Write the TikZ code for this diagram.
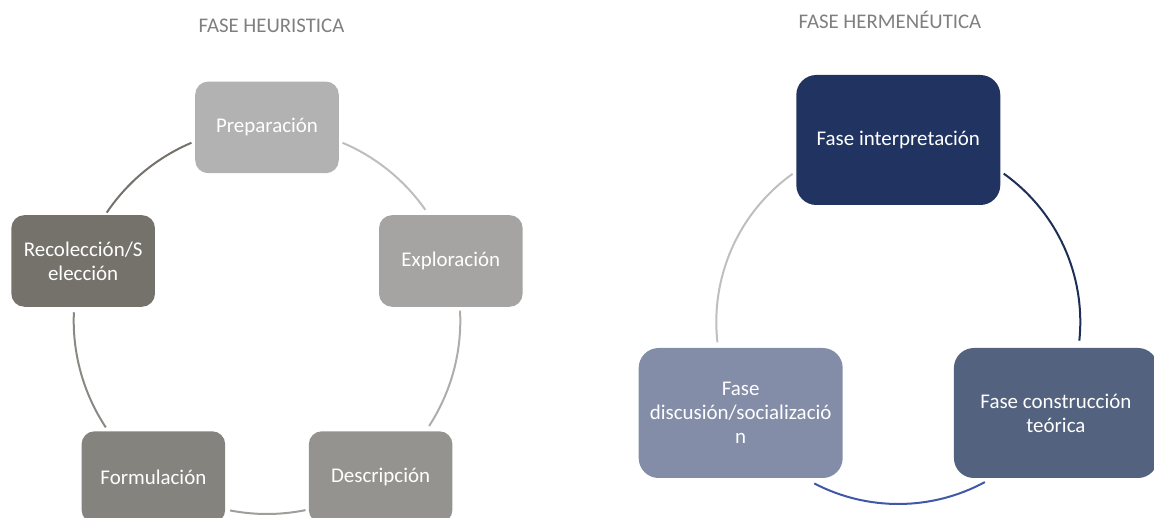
\documentclass[tikz,border=0pt]{standalone}
\usepackage{fontspec}
\setmainfont{Carlito}
\usetikzlibrary{positioning}

\definecolor{prepgray}{HTML}{B2B2B2}
\definecolor{explgray}{HTML}{A5A4A2}
\definecolor{descgray}{HTML}{94938F}
\definecolor{formgray}{HTML}{85837E}
\definecolor{recolgray}{HTML}{75726B}
\definecolor{interpblue}{HTML}{213461}
\definecolor{constrblue}{HTML}{53627F}
\definecolor{discblue}{HTML}{838DA7}
\definecolor{constrarc}{HTML}{4058A8}
\definecolor{titlegray}{HTML}{7F7F7F}

\tikzset{
  phasebox/.style={fill=#1, draw=none, text=white, align=center, inner sep=2pt,
    rounded corners=9.75pt, minimum width=107.7pt, minimum height=68.7pt,
    font=\fontsize{15.7}{18}\selectfont},
  phaseboxwide/.style={phasebox=#1, rounded corners=15pt,
    minimum width=153pt, minimum height=97.5pt},
  cyclearc/.style={draw=#1, line width=1.5pt},
  phasetitle/.style={text=titlegray, font=\fontsize{15.6}{18}\selectfont}
}

\begin{document}
\begin{tikzpicture}[x=0.75pt, y=0.75pt]
    \useasboundingbox (0,0) rectangle (1154,518);
    \coordinate (heuC) at (267,197.3);
    \coordinate (herC) at (898.3,196);

    % Titles
    \node[phasetitle] (heutitle) at (271.5,492) {FASE HEURISTICA};
    \node[phasetitle] (hertitle) at (890,498) {FASE HERMENÉUTICA};

    % Heuristic cycle
    \node[phasebox=prepgray] (prep) at ([shift={(90:193.3)}]heuC) {Preparación};
    \node[phasebox=explgray] (expl) at ([shift={(18:193.3)}]heuC) {Exploración};
    \node[phasebox=descgray] (desc) at ([shift={(-54:193.3)}]heuC) {Descripción};
    \node[phasebox=formgray] (form) at ([shift={(-126:193.3)}]heuC) {Formulación};
    \node[phasebox=recolgray] (recol) at ([shift={(162:193.3)}]heuC) {Recolección/S\\elección};

    \draw[cyclearc=prepgray!85!white] ([shift={(67:193.3)}]heuC) arc[start angle=67, end angle=35, radius=193.3];
    \draw[cyclearc=explgray!90!white] ([shift={(3:193.3)}]heuC) arc[start angle=3, end angle=-33, radius=193.3];
    \draw[cyclearc=descgray!90!white] ([shift={(-78.5:193.3)}]heuC) arc[start angle=-78.5, end angle=-101, radius=193.3];
    \draw[cyclearc=formgray!95!white] ([shift={(-146.5:193.3)}]heuC) arc[start angle=-146.5, end angle=-182.5, radius=193.3];
    \draw[cyclearc=recolgray] ([shift={(146:193.3)}]heuC) arc[start angle=146, end angle=113, radius=193.3];

    % Hermeneutic cycle
    \node[phaseboxwide=interpblue] (interp) at ([shift={(90:182)}]herC) {Fase interpretación};
    \node[phaseboxwide=constrblue] (constr) at ([shift={(-30:182)}]herC) {Fase construcción\\teórica};
    \node[phaseboxwide=discblue] (disc) at ([shift={(210:182)}]herC) {Fase\\discusión/socializació\\n};

    \draw[cyclearc=interpblue!90!black] ([shift={(54.6:182)}]herC) arc[start angle=54.6, end angle=-5.9, radius=182];
    \draw[cyclearc=constrarc] ([shift={(-61.6:182)}]herC) arc[start angle=-61.6, end angle=-117.5, radius=182];
    \draw[cyclearc=black!25] ([shift={(186.4:182)}]herC) arc[start angle=186.4, end angle=125.5, radius=182];
\end{tikzpicture}
\end{document}
